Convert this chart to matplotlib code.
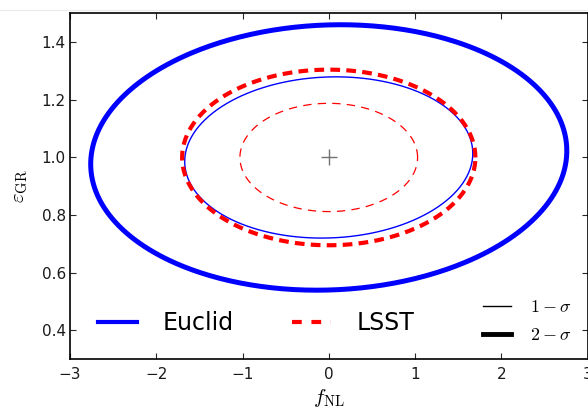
import numpy as np
import matplotlib
matplotlib.use("Agg")
import matplotlib.pyplot as plt
from matplotlib.lines import Line2D

plt.rcParams["mathtext.fontset"] = "cm"
plt.rcParams["font.family"] = ["DejaVu Sans"]
plt.rcParams["lines.scale_dashes"] = False

# Fiducial point and forecast contours (half-extents of 1-sigma and 2-sigma regions)
fnl_fiducial = 0.0
egr_fiducial = 1.0

euclid_half_width = [1.67, 2.76]
euclid_half_height = [0.28, 0.461]
euclid_corr = 0.05

lsst_half_width = [1.03, 1.70]
lsst_half_height = [0.188, 0.305]
lsst_corr = 0.0

contour_labels = [r"$1-\sigma$", r"$2-\sigma$"]
xticks = [-3, -2, -1, 0, 1, 2, 3]
yticks = [0.4, 0.6, 0.8, 1.0, 1.2, 1.4]


def contour(cx, cy, a, b, rho, n=400):
    t = np.linspace(0, 2 * np.pi, n)
    x = cx + a * np.cos(t)
    y = cy + b * (rho * np.cos(t) + np.sqrt(1 - rho ** 2) * np.sin(t))
    return x, y


fig = plt.figure(figsize=(5.88, 4.11), dpi=100)
ax = fig.add_axes([70 / 588, 1 - 359 / 411, 517.5 / 588, 345.5 / 411])

euclid_lw = [1.0, 3.6]
lsst_lw = [0.9, 3.0]
lsst_dash = [(6, 4.5), (7, 4.5)]

for i in range(2):
    x, y = contour(fnl_fiducial, egr_fiducial, euclid_half_width[i],
                   euclid_half_height[i], euclid_corr)
    ax.plot(x, y, color="blue", lw=euclid_lw[i], solid_capstyle="butt")
    x, y = contour(fnl_fiducial, egr_fiducial, lsst_half_width[i],
                   lsst_half_height[i], lsst_corr)
    ax.plot(x, y, color="red", lw=lsst_lw[i], dashes=lsst_dash[i],
            dash_capstyle="butt")

ax.plot([fnl_fiducial], [egr_fiducial], marker="+", ms=11.5, mew=1.0,
        color="0.45", ls="none")

ax.set_xlim(-3, 3)
ax.set_ylim(0.3, 1.5)
ax.set_xticks(xticks)
ax.set_yticks(yticks)
ax.tick_params(direction="in", top=True, right=True, length=4, width=0.8,
               labelsize=11, colors="0.15", labelcolor="0.1")
ax.tick_params(axis="x", pad=6)
ax.tick_params(axis="y", pad=3)
for s in ax.spines.values():
    s.set_linewidth(1.2)

ax.set_xlabel(r"$f_{\rm NL}$", fontsize=15, labelpad=3)
ax.set_ylabel(r"$\varepsilon_{\rm GR}$", fontsize=15, labelpad=8)

survey_handles = [
    Line2D([], [], color="blue", lw=3.0),
    Line2D([], [], color="red", lw=3.0, dashes=(7, 7)),
]
leg1 = ax.legend(survey_handles, ["Euclid", "LSST"], ncol=2, frameon=False,
                 fontsize=17, loc="center left", bbox_to_anchor=(0.054, 0.104),
                 borderpad=0, borderaxespad=0, handlelength=1.65,
                 handletextpad=1.1, columnspacing=2.45)
ax.add_artist(leg1)

sigma_handles = [
    Line2D([], [], color="black", lw=1.0),
    Line2D([], [], color="black", lw=3.5),
]
ax.legend(sigma_handles, contour_labels, frameon=False, fontsize=13,
          loc="center left", bbox_to_anchor=(0.799, 0.11), borderpad=0,
          borderaxespad=0, handlelength=1.55, handletextpad=1.05,
          labelspacing=0.55)

fig.add_artist(Line2D([0, 1], [1 - 10 / 411, 1 - 10 / 411], color="0.92",
                      lw=0.8, transform=fig.transFigure))

fig.savefig("out.png", dpi=100)
